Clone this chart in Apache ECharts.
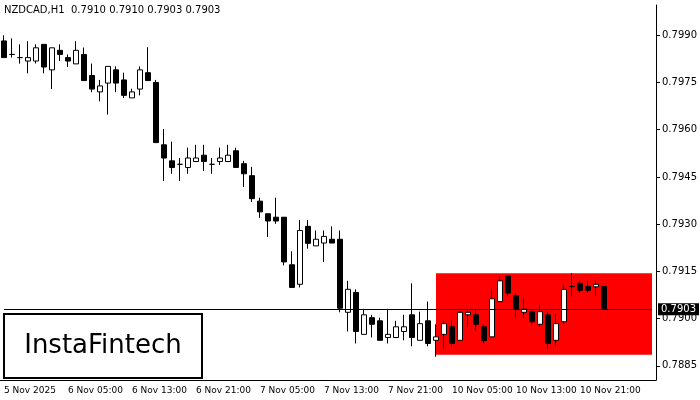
<!DOCTYPE html>
<html>
<head>
<meta charset="utf-8">
<script src="https://cdn.jsdelivr.net/npm/echarts@6/dist/echarts.min.js"></script>
<style>*{margin:0} body{background:#fff}</style>
</head>
<body>
<div id="main" style="width:700px;height:400px;"></div>
<script>
// open, close, low, high per hourly bar
var ohlc = [
[0.79882,0.79829,0.79829,0.79900],[0.79839,0.79839,0.79829,0.79890],[0.79829,0.79829,0.79810,0.79871],
[0.79818,0.79829,0.79779,0.79881],[0.79818,0.79860,0.79810,0.79871],[0.79871,0.79799,0.79779,0.79871],
[0.79790,0.79860,0.79729,0.79861],[0.79852,0.79839,0.79818,0.79871],[0.79829,0.79818,0.79799,0.79839],
[0.79809,0.79852,0.79809,0.79881],[0.79839,0.79756,0.79756,0.79861],[0.79772,0.79729,0.79719,0.79810],
[0.79720,0.79739,0.79690,0.79758],[0.79748,0.79801,0.79648,0.79801],[0.79790,0.79748,0.79719,0.79801],
[0.79758,0.79709,0.79701,0.79781],[0.79701,0.79720,0.79701,0.79730],[0.79729,0.79790,0.79709,0.79801],
[0.79781,0.79756,0.79756,0.79862],[0.79750,0.79559,0.79559,0.79758],[0.79552,0.79510,0.79437,0.79602],
[0.79501,0.79480,0.79460,0.79562],[0.79490,0.79490,0.79437,0.79510],[0.79480,0.79510,0.79460,0.79543],
[0.79499,0.79510,0.79499,0.79552],[0.79519,0.79499,0.79469,0.79552],[0.79490,0.79490,0.79460,0.79510],
[0.79499,0.79510,0.79488,0.79543],[0.79499,0.79519,0.79499,0.79552],[0.79533,0.79480,0.79480,0.79543],
[0.79492,0.79460,0.79418,0.79501],[0.79454,0.79381,0.79370,0.79482],[0.79373,0.79339,0.79320,0.79384],
[0.79333,0.79310,0.79259,0.79333],[0.79322,0.79310,0.79301,0.79384],[0.79322,0.79180,0.79169,0.79322],
[0.79171,0.79099,0.79099,0.79214],[0.79109,0.79280,0.79099,0.79313],[0.79293,0.79239,0.79222,0.79313],
[0.79231,0.79252,0.79231,0.79280],[0.79240,0.79261,0.79180,0.79280],[0.79252,0.79240,0.79240,0.79293],
[0.79252,0.79033,0.79020,0.79280],[0.79020,0.79093,0.78959,0.79120],[0.79083,0.78959,0.78921,0.79093],
[0.78950,0.79012,0.78950,0.79031],[0.79003,0.78982,0.78940,0.79012],[0.78993,0.78931,0.78931,0.79003],
[0.78940,0.78950,0.78921,0.79031],[0.78940,0.78974,0.78940,0.78993],[0.78959,0.78974,0.78931,0.79012],
[0.79012,0.78940,0.78912,0.79112],[0.78931,0.78984,0.78931,0.79022],[0.78993,0.78921,0.78912,0.79054],
[0.78931,0.78942,0.78879,0.78982],[0.78950,0.78984,0.78904,0.78994],[0.78974,0.78921,0.78911,0.78994],
[0.78931,0.79020,0.78931,0.79022],[0.79012,0.79020,0.78974,0.79031],[0.79012,0.78982,0.78959,0.79031],
[0.78974,0.78930,0.78921,0.78982],[0.78942,0.79063,0.78942,0.79093],[0.79054,0.79120,0.79054,0.79135],
[0.79135,0.79081,0.79071,0.79135],[0.79073,0.79031,0.79001,0.79081],[0.79020,0.79030,0.79001,0.79063],
[0.79022,0.78990,0.78982,0.79031],[0.78982,0.79022,0.78974,0.79042],[0.79012,0.78921,0.78903,0.79022],
[0.78931,0.78984,0.78911,0.79014],[0.78990,0.79093,0.78982,0.79109],[0.79102,0.79102,0.79071,0.79144],
[0.79112,0.79090,0.79082,0.79120],[0.79102,0.79090,0.79082,0.79120],[0.79101,0.79109,0.79071,0.79120],
[0.79102,0.79031,0.79031,0.79102]
];
var timeLabels = ['5 Nov 2025','6 Nov 05:00','6 Nov 13:00','6 Nov 21:00','7 Nov 05:00',
  '7 Nov 13:00','7 Nov 21:00','10 Nov 05:00','10 Nov 13:00','10 Nov 21:00'];
var priceTicks = [0.7885,0.7900,0.7915,0.7930,0.7945,0.7960,0.7975,0.7990];
var lastPrice = 0.7903;
var zoneTop = 0.79144, zoneBottom = 0.78885, zoneStart = 54;

var nCats = 82;
var categories = [];
for (var i = 0; i < nCats; i++) categories.push(i % 8 === 0 ? (timeLabels[i / 8] || '') : '');

var chart = echarts.init(document.getElementById('main'));
chart.setOption({
  animation: false,
  grid: {left: 0, right: 42, top: 5, bottom: 20},
  title: {text: 'NZDCAD,H1  0.7910 0.7910 0.7903 0.7903', left: 4, top: 5, padding: 0,
    textStyle: {fontSize: 10, fontWeight: 'normal', color: '#000', fontFamily: 'DejaVu Sans'}},
  xAxis: {
    type: 'category', data: categories, boundaryGap: true,
    axisLine: {lineStyle: {color: '#000'}},
    axisTick: {interval: function (i) { return i % 8 === 0 && i < 80; }, length: 4, alignWithLabel: true, lineStyle: {color: '#000'}},
    axisLabel: {interval: 0, align: 'left', margin: 6, fontSize: 9, color: '#000', fontFamily: 'DejaVu Sans'},
    splitLine: {show: false}
  },
  yAxis: {
    type: 'value', position: 'right', min: 0.78805, max: 0.79996,
    axisLine: {show: true, lineStyle: {color: '#000'}},
    axisTick: {show: true, customValues: priceTicks, length: 4, lineStyle: {color: '#000'}},
    axisLabel: {customValues: priceTicks, margin: 6, fontSize: 10, color: '#000', fontFamily: 'DejaVu Sans',
      formatter: function (v) { return v.toFixed(4); }},
    splitLine: {show: false}
  },
  series: [{
    type: 'candlestick', data: ohlc, barWidth: 5,
    itemStyle: {color: '#fff', color0: '#000', borderColor: '#000', borderColor0: '#000', borderWidth: 1},
    markArea: {
      silent: true, itemStyle: {color: '#ff0000', opacity: 1},
      data: [[{xAxis: zoneStart, yAxis: zoneTop}, {xAxis: nCats - 1, yAxis: zoneBottom}]]
    },
    markLine: {
      silent: true, symbol: 'none', z: 10,
      lineStyle: {color: '#000', width: 1, type: 'solid'},
      label: {position: 'end', distance: 6, formatter: lastPrice.toFixed(4), backgroundColor: '#000', color: '#fff',
        fontSize: 10, padding: [1, 3], fontFamily: 'DejaVu Sans'},
      data: [[{coord: [0, lastPrice]}, {coord: [nCats - 1, lastPrice]}]]
    }
  }],
  graphic: [{
    type: 'group', left: 3, top: 313, children: [
      {type: 'rect', shape: {x: 0, y: 0, width: 198, height: 64}, style: {fill: '#fff', stroke: '#000', lineWidth: 2}},
      {type: 'text', x: 99, y: 32, style: {text: 'InstaFintech', fill: '#000', font: '26px "DejaVu Sans"', align: 'center', verticalAlign: 'middle'}}
    ]
  }]
});
</script>
</body>
</html>
